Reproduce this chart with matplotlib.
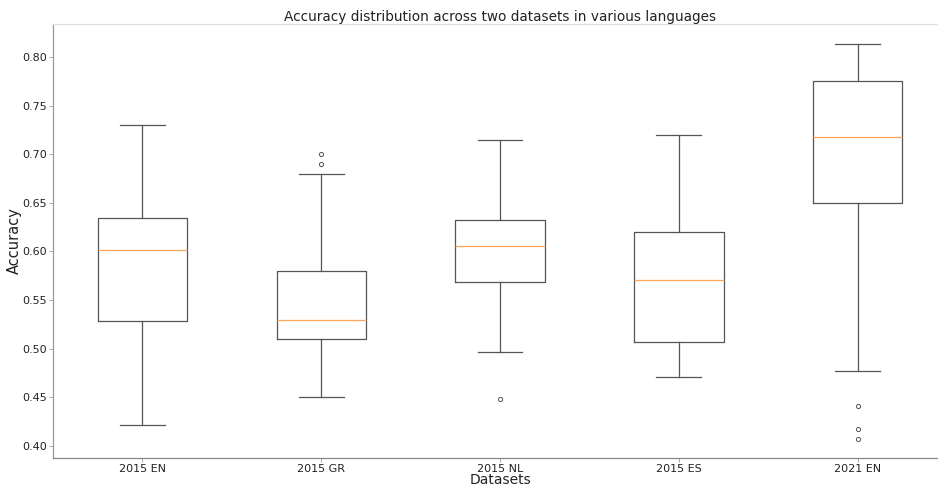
import matplotlib
matplotlib.use('Agg')

import matplotlib.pyplot as plt

# per-dataset accuracy summary (quartiles, whiskers, outliers)
labels = ['2015 EN', '2015 GR', '2015 NL', '2015 ES', '2021 EN']
medians = [0.601, 0.530, 0.606, 0.571, 0.718]
q1s = [0.529, 0.510, 0.569, 0.507, 0.650]
q3s = [0.634, 0.580, 0.632, 0.620, 0.775]
whislos = [0.422, 0.450, 0.497, 0.471, 0.477]
whishis = [0.730, 0.680, 0.715, 0.720, 0.813]
fliers = [[], [0.690, 0.700], [0.448], [], [0.441, 0.417, 0.407]]

stats = []
for i in range(len(labels)):
    stats.append({'label': labels[i], 'med': medians[i], 'q1': q1s[i], 'q3': q3s[i],
                  'whislo': whislos[i], 'whishi': whishis[i], 'fliers': fliers[i]})

fig = plt.figure(figsize=(9.38, 4.88), dpi=100)
ax = fig.add_axes([53 / 938, 30 / 488, 894 / 938, 434 / 488])

lc = '#555555'
ax.bxp(stats, widths=0.5,
       boxprops=dict(color=lc, linewidth=0.9),
       whiskerprops=dict(color=lc, linewidth=0.9),
       capprops=dict(color=lc, linewidth=0.9),
       medianprops=dict(color='#ffa55a', linewidth=0.9),
       flierprops=dict(marker='o', markersize=3, markerfacecolor='none',
                       markeredgecolor=lc, markeredgewidth=0.7))

ax.set_xlim(0.5, 5.5)
ax.set_ylim(0.3877, 0.8338)

ax.set_title('Accuracy distribution across two datasets in various languages',
             fontsize=9.8, color='#222222', pad=2)
ax.set_xlabel('Datasets', fontsize=10, color='#222222', labelpad=-0.5)
ax.set_ylabel('Accuracy', fontsize=10.5, color='#222222', labelpad=0)

ax.tick_params(labelsize=8, colors='#999999', labelcolor='#222222', length=3, width=0.6, pad=1.5)
ax.tick_params(axis='x', pad=1)
ax.spines['left'].set_color('#999999')
ax.spines['bottom'].set_color('#888888')
ax.spines['top'].set_color('#e0e0e0')
ax.spines['right'].set_visible(False)
for s in ax.spines.values():
    s.set_linewidth(0.9)

fig.savefig('out.png', dpi=100, facecolor='white')
